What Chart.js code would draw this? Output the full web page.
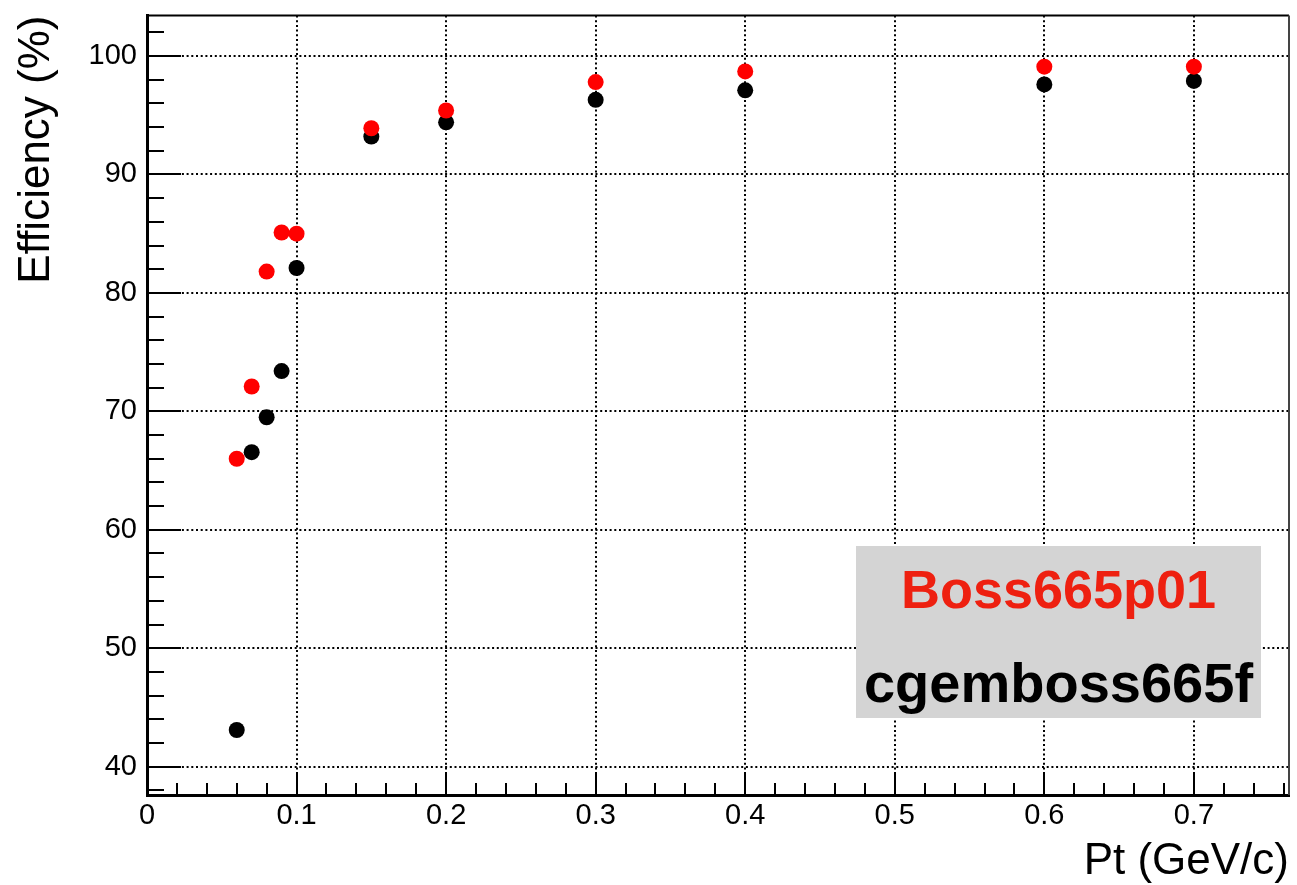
<!DOCTYPE html>
<html><head><meta charset="utf-8">
<script src="https://cdn.jsdelivr.net/npm/chart.js@4/dist/chart.umd.min.js"></script>
<style>html,body{margin:0;padding:0;background:#fff;} #wrap{width:1297px;height:885px;}</style>
</head><body><div id="wrap"><canvas id="c" width="1297" height="885"></canvas></div>
<script>
const ptValues = [0.06, 0.07, 0.08, 0.09, 0.10, 0.15, 0.2, 0.3, 0.4, 0.6, 0.7];
const boss665p01Eff = [66.0, 72.1, 81.8, 85.1, 85.0, 93.9, 95.4, 97.8, 98.7, 99.1, 99.1];
const cgemboss665fEff = [43.1, 66.55, 69.5, 73.4, 82.1, 93.2, 94.4, 96.3, 97.1, 97.6, 97.9];
const seriesNames = ['Boss665p01', 'cgemboss665f'];
const seriesColors = ['#ff0000', '#000000'];
const legendTextColors = ['#ee2010', '#000000'];
const xMajorTicks = [0, 0.1, 0.2, 0.3, 0.4, 0.5, 0.6, 0.7];
const xTickLabels = ['0', '0.1', '0.2', '0.3', '0.4', '0.5', '0.6', '0.7'];
const yMajorTicks = [40, 50, 60, 70, 80, 90, 100];
const yTickLabels = ['40', '50', '60', '70', '80', '90', '100'];
const xRange = [0, 0.7636];
const yRange = [37.61, 103.42];
const xTitle = 'Pt (GeV/c)';
const yTitle = 'Efficiency (%)';

const FONT = "'Liberation Sans', Arial, Helvetica, sans-serif";

function toPoints(xs, ys) { return xs.map((x, i) => ({x: x, y: ys[i]})); }

const rootFrame = {
  id: 'rootFrame',
  afterDraw(chart) {
    const ctx = chart.ctx, a = chart.chartArea;
    const xs = chart.scales.x, ys = chart.scales.y;
    ctx.save();
    ctx.strokeStyle = '#000';
    ctx.lineWidth = 2;
    for (let v = 38; v <= 102.001; v += 2) {
      const p = Math.round(ys.getPixelForValue(v));
      const major = Math.abs(v % 10) < 1e-6;
      ctx.beginPath();
      ctx.moveTo(a.left, p);
      ctx.lineTo(a.left + (major ? 34 : 17), p);
      ctx.stroke();
    }
    for (let k = 1; k * 0.02 <= xRange[1]; k++) {
      const v = k * 0.02;
      const p = Math.round(xs.getPixelForValue(v));
      const major = k % 5 === 0;
      ctx.beginPath();
      ctx.moveTo(p, a.bottom);
      ctx.lineTo(p, a.bottom - (major ? 23 : 12));
      ctx.stroke();
    }
    ctx.lineWidth = 2;
    ctx.beginPath();
    ctx.moveTo(a.left, a.top); ctx.lineTo(a.right, a.top);
    ctx.stroke();
    ctx.strokeStyle = '#444';
    ctx.beginPath();
    ctx.moveTo(a.right, a.top); ctx.lineTo(a.right, a.bottom);
    ctx.stroke();
    const bx = 856, by = 546, bw = 405, bh = 172;
    ctx.fillStyle = '#d4d4d4';
    ctx.fillRect(bx, by, bw, bh);
    ctx.textAlign = 'center';
    ctx.textBaseline = 'alphabetic';
    ctx.font = 'bold 54px ' + FONT;
    ctx.fillStyle = legendTextColors[0];
    ctx.fillText(seriesNames[0], bx + bw / 2, 608);
    ctx.font = 'bold 56px ' + FONT;
    ctx.fillStyle = legendTextColors[1];
    ctx.fillText(seriesNames[1], bx + bw / 2, 702);
    ctx.restore();
  }
};

new Chart(document.getElementById('c'), {
  type: 'scatter',
  data: {
    datasets: [
      {label: seriesNames[0], data: toPoints(ptValues, boss665p01Eff), backgroundColor: seriesColors[0], borderWidth: 0, pointRadius: 8, pointHoverRadius: 8},
      {label: seriesNames[1], data: toPoints(ptValues, cgemboss665fEff), backgroundColor: seriesColors[1], borderWidth: 0, pointRadius: 8, pointHoverRadius: 8}
    ]
  },
  options: {
    responsive: false,
    animation: false,
    events: [],
    layout: {padding: {top: 15.5, right: 5, left: 0, bottom: 0}},
    plugins: {legend: {display: false}, tooltip: {enabled: false}},
    scales: {
      x: {
        type: 'linear', min: xRange[0], max: xRange[1],
        afterBuildTicks(s) { s.ticks = xMajorTicks.map(v => ({value: v})); },
        afterFit(s) { s.height = 90; s.paddingLeft = 0; s.paddingRight = 0; s.paddingTop = 0; s.paddingBottom = 0; },
        ticks: {
          autoSkip: false, maxRotation: 0, padding: 4, color: '#000',
          font: {family: FONT, size: 29},
          callback(v) { const i = xMajorTicks.findIndex(t => Math.abs(t - v) < 1e-9); return i >= 0 ? xTickLabels[i] : ''; }
        },
        grid: {color: '#000', lineWidth: 2, drawTicks: false, tickLength: 0},
        border: {display: true, color: '#000', width: 3, dash: [2, 2.7]},
        title: {display: true, text: xTitle, align: 'end', color: '#000', font: {family: FONT, size: 44, lineHeight: 1}, padding: {top: 0, bottom: 1}}
      },
      y: {
        type: 'linear', min: yRange[0], max: yRange[1],
        afterBuildTicks(s) { s.ticks = yMajorTicks.map(v => ({value: v})); },
        afterFit(s) { s.width = 147; s.paddingTop = 0; s.paddingBottom = 0; s.paddingLeft = 0; s.paddingRight = 0; },
        ticks: {
          autoSkip: false, padding: 10, color: '#000',
          font: {family: FONT, size: 29},
          callback(v) { const i = yMajorTicks.findIndex(t => Math.abs(t - v) < 1e-9); return i >= 0 ? yTickLabels[i] : ''; }
        },
        grid: {color: '#000', lineWidth: 2, drawTicks: false, tickLength: 0},
        border: {display: true, color: '#000', width: 3, dash: [2, 2.7]},
        title: {display: true, text: yTitle, align: 'end', color: '#000', font: {family: FONT, size: 44, lineHeight: 1}, padding: {top: 15, bottom: 0}}
      }
    }
  },
  plugins: [rootFrame]
});
</script></body></html>
